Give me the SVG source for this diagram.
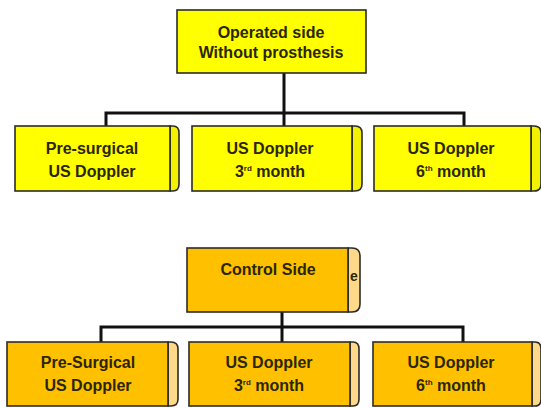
<svg xmlns="http://www.w3.org/2000/svg" width="541" height="408" viewBox="0 0 541 408">
  <defs>
    <style>
      .box { stroke: #2b2b2b; stroke-width: 1.6; }
      .op { fill: #ffff00; }
      .ctl { fill: #ffc000; }
      .tab-op { fill: #f2f200; stroke: #2b2b2b; stroke-width: 1.6; }
      .tab-ctl { fill: #ffd98a; stroke: #2b2b2b; stroke-width: 1.6; }
      .lbl { font-family: "Liberation Sans", Arial, sans-serif; font-weight: bold; font-size: 16px; fill: #2b2600; text-anchor: middle; }
      .sup { font-size: 8px; }
      .wire { fill: none; stroke: #111; stroke-width: 3; }
    </style>
  </defs>

  <rect width="541" height="408" fill="#ffffff"/>

  <!-- connectors -->
  <g id="connectors" class="wire">
    <path d="M284,73 V127"/>
    <path d="M106,127 V113 H464 V127"/>
    <path d="M282,312 V342"/>
    <path d="M101,342 V327 H463 V342"/>
  </g>

  <!-- operated side -->
  <g id="operated">
    <rect class="box op" x="177" y="10" width="189" height="63"/>
    <text class="lbl" x="271" y="38">Operated side</text>
    <text class="lbl" x="271" y="58">Without prosthesis</text>
  </g>

  <g id="op-presurgical">
    <path class="tab-op" d="M170,126 H173 Q179,126 179,133 V184 Q179,191 173,191 H170 Z"/>
    <rect class="box op" x="15" y="126" width="155" height="65"/>
    <text class="lbl" x="92" y="154">Pre-surgical</text>
    <text class="lbl" x="92" y="177">US Doppler</text>
  </g>

  <g id="op-3rd">
    <path class="tab-op" d="M352,126 H355 Q362,126 362,133 V184 Q362,191 355,191 H352 Z"/>
    <rect class="box op" x="192" y="126" width="160" height="65"/>
    <text class="lbl" x="270" y="154">US Doppler</text>
    <text class="lbl" x="270" y="177">3<tspan class="sup" dy="-6">rd</tspan><tspan dy="6"> month</tspan></text>
  </g>

  <g id="op-6th">
    <path class="tab-op" d="M531,126 H534 Q541,126 541,133 V184 Q541,191 534,191 H531 Z"/>
    <rect class="box op" x="374" y="126" width="157" height="65"/>
    <text class="lbl" x="451" y="154">US Doppler</text>
    <text class="lbl" x="451" y="177">6<tspan class="sup" dy="-6">th</tspan><tspan dy="6"> month</tspan></text>
  </g>

  <!-- control side -->
  <g id="control">
    <path class="tab-ctl" d="M348,248 H352 Q360,248 360,256 V304 Q360,312 352,312 H348 Z"/>
    <text class="lbl" x="354" y="281" style="font-size:14px">e</text>
    <rect class="box ctl" x="187" y="248" width="161" height="64"/>
    <text class="lbl" x="268" y="275">Control Side</text>
  </g>

  <g id="ctl-presurgical">
    <path class="tab-ctl" d="M168,342 H171 Q178,342 178,349 V399 Q178,406 171,406 H168 Z"/>
    <rect class="box ctl" x="7" y="342" width="161" height="64"/>
    <text class="lbl" x="88" y="368">Pre-Surgical</text>
    <text class="lbl" x="88" y="391">US Doppler</text>
  </g>

  <g id="ctl-3rd">
    <path class="tab-ctl" d="M350,342 H353 Q359,342 359,349 V399 Q359,406 353,406 H350 Z"/>
    <rect class="box ctl" x="189" y="342" width="161" height="64"/>
    <text class="lbl" x="269" y="368">US Doppler</text>
    <text class="lbl" x="269" y="391">3<tspan class="sup" dy="-6">rd</tspan><tspan dy="6"> month</tspan></text>
  </g>

  <g id="ctl-6th">
    <path class="tab-ctl" d="M532,342 H535 Q541,342 541,349 V399 Q541,406 535,406 H532 Z"/>
    <rect class="box ctl" x="373" y="342" width="159" height="64"/>
    <text class="lbl" x="451" y="368">US Doppler</text>
    <text class="lbl" x="451" y="391">6<tspan class="sup" dy="-6">th</tspan><tspan dy="6"> month</tspan></text>
  </g>
</svg>
